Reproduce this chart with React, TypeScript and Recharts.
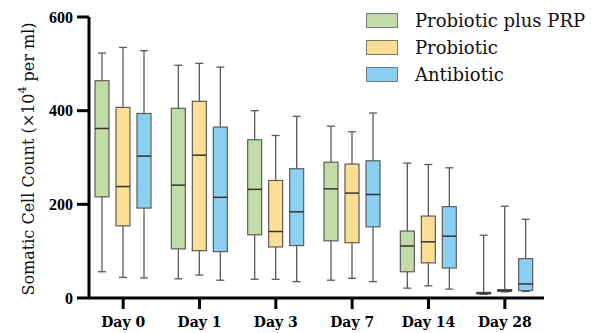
import { ComposedChart, Bar, XAxis, YAxis, Legend } from 'recharts';

const days = ['Day 0', 'Day 1', 'Day 3', 'Day 7', 'Day 14', 'Day 28'];

// each entry: [min, q1, median, q3, max]
const probioticPlusPrp = [
  [56, 216, 362, 464, 523],
  [41, 105, 241, 405, 497],
  [40, 135, 232, 338, 400],
  [38, 122, 233, 290, 367],
  [21, 56, 111, 143, 288],
  [8, 9, 10, 12, 134],
];
const probiotic = [
  [44, 154, 238, 407, 535],
  [49, 101, 305, 420, 501],
  [40, 109, 142, 251, 347],
  [42, 118, 224, 286, 355],
  [26, 75, 120, 175, 285],
  [13, 14, 16, 18, 196],
];
const antibiotic = [
  [43, 192, 303, 394, 528],
  [38, 99, 215, 365, 493],
  [35, 112, 184, 276, 388],
  [35, 152, 221, 293, 395],
  [19, 64, 132, 195, 278],
  [14, 16, 30, 84, 168],
];
const yTicks = [0, 200, 400, 600];

const series = [
  { key: 'prp', name: 'Probiotic plus PRP', color: '#c2dca8' },
  { key: 'pro', name: 'Probiotic', color: '#fbde95' },
  { key: 'anti', name: 'Antibiotic', color: '#8bd0f3' },
];

const data = days.map((day, i) => ({
  day,
  prp: probioticPlusPrp[i],
  pro: probiotic[i],
  anti: antibiotic[i],
}));

const SERIF = '"DejaVu Serif", serif';

function BoxShape(props: any) {
  const { x, y, width, height, stats, fill } = props;
  const [min, q1, med, q3, max] = stats;
  const top = y;
  const bottom = y + height;
  const py = (v: number) => bottom + ((top - bottom) * (v - min)) / (max - min);
  const cx = x + width / 2;
  const cap = 4;
  return (
    <g>
      <line x1={cx} x2={cx} y1={py(max)} y2={py(min)} stroke="#5a5a5a" strokeWidth={1.3} />
      <line x1={cx - cap} x2={cx + cap} y1={py(max)} y2={py(max)} stroke="#5a5a5a" strokeWidth={1.3} />
      <line x1={cx - cap} x2={cx + cap} y1={py(min)} y2={py(min)} stroke="#5a5a5a" strokeWidth={1.3} />
      <rect
        x={x}
        y={py(q3)}
        width={width}
        height={Math.max(py(q1) - py(q3), 0.5)}
        fill={fill}
        stroke="#5c5c5c"
        strokeWidth={1.2}
      />
      <line x1={x} x2={x + width} y1={py(med)} y2={py(med)} stroke="#333" strokeWidth={1.5} />
    </g>
  );
}

function LegendBox() {
  return (
    <div>
      {series.map(s => (
        <div key={s.key} style={{ display: 'flex', alignItems: 'center', height: 27 }}>
          <span
            style={{
              display: 'inline-block',
              width: 30,
              height: 13,
              background: s.color,
              border: '1px solid #777',
              marginRight: 17,
            }}
          />
          <span style={{ fontFamily: SERIF, fontSize: 18, color: '#111' }}>{s.name}</span>
        </div>
      ))}
    </div>
  );
}

export default function App() {
  return (
    <div style={{ position: 'absolute', left: 0, top: 0, background: '#fff' }}>
      <ComposedChart
        width={606}
        height={333}
        data={data}
        margin={{ top: 17, right: 62, bottom: 0, left: 0 }}
        barGap={7}
      >
        <XAxis
          dataKey="day"
          height={35}
          interval={0}
          padding={{ left: -4, right: 1 }}
          axisLine={{ stroke: '#000', strokeWidth: 3 }}
          tickLine={{ stroke: '#000', strokeWidth: 3 }}
          tickSize={11}
          tickMargin={8}
          tick={{ fontFamily: SERIF, fontSize: 14, fontWeight: 'bold', fill: '#000' }}
        />
        <YAxis
          width={89}
          domain={[0, 600]}
          ticks={yTicks}
          axisLine={{ stroke: '#000', strokeWidth: 3 }}
          tickLine={{ stroke: '#000', strokeWidth: 3 }}
          tickSize={12}
          tickMargin={4}
          tick={{ fontFamily: '"Liberation Serif", serif', fontSize: 16, fontWeight: 'bold', fill: '#000' }}
        />
        <Legend
          layout="horizontal"
          verticalAlign="middle"
          align="center"
          wrapperStyle={{ left: 366, top: 7, width: 240 }}
          content={() => <LegendBox />}
        />
        {series.map(s => (
          <Bar
            key={s.key}
            name={s.name}
            dataKey={(d: any) => [d[s.key][0], d[s.key][4]]}
            fill={s.color}
            barSize={14}
            isAnimationActive={false}
            shape={(p: any) => <BoxShape {...p} stats={p.payload[s.key]} fill={s.color} />}
          />
        ))}
        <text
          x={28}
          y={159}
          transform="rotate(-90 28 159)"
          textAnchor="middle"
          dominantBaseline="central"
          fontFamily={SERIF}
          fontSize={16}
          fill="#111"
        >
          Somatic Cell Count (×10
          <tspan dy={-6} fontSize={11}>4</tspan>
          <tspan dy={6}> per ml)</tspan>
        </text>
      </ComposedChart>
    </div>
  );
}
